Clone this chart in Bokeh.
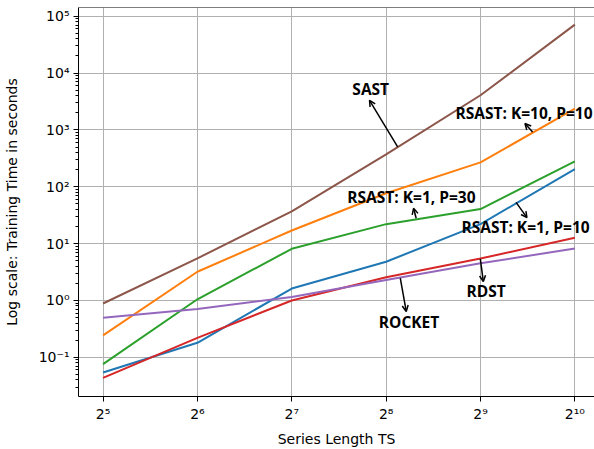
import numpy as np
from bokeh.plotting import figure
from bokeh.models import (FixedTicker, Arrow, OpenHead, Label, Span, Range1d,
                          CustomJSTickFormatter)
from bokeh.embed import file_html
from bokeh.resources import INLINE

# ---- data ----
series_length = [32, 64, 128, 256, 512, 1024]
rsast_k1_p10 = [0.054, 0.18, 1.62, 4.8, 22, 205]
rsast_k10_p10 = [0.243, 3.2, 17, 77, 268, 2370]
rsast_k1_p30 = [0.076, 1.05, 8.1, 22, 40.6, 279]
rocket = [0.0436, 0.22, 1.0, 2.57, 5.46, 12.7]
rdst = [0.497, 0.71, 1.15, 2.3, 4.5, 8.2]
sast = [0.885, 5.5, 37, 370, 4070, 71000]

x_ticks = [32, 64, 128, 256, 512, 1024]
y_ticks = [0.01, 0.1, 1, 10, 100, 1000, 10000, 100000]

series = [
    ("RSAST: K=1, P=10", rsast_k1_p10, "#1f77b4"),
    ("RSAST: K=10, P=10", rsast_k10_p10, "#ff7f0e"),
    ("RSAST: K=1, P=30", rsast_k1_p30, "#2ca02c"),
    ("ROCKET", rocket, "#d62728"),
    ("RDST", rdst, "#9467bd"),
    ("SAST", sast, "#8c564b"),
]

# annotation layout (log2 x, log10 y): text-left, text-mid, arrow tail, arrow head
annotations = [
    ("SAST", (7.642, 3.714), (8.122, 2.702), (7.824, 3.521)),
    ("RSAST: K=10, P=10", (8.735, 3.293), (9.552, 2.965), (9.471, 3.112)),
    ("RSAST: K=1, P=30", (7.589, 1.825), (8.318, 1.446), (8.291, 1.621)),
    ("RSAST: K=1, P=10", (8.798, 1.284), (9.377, 1.726), (9.492, 1.456)),
    ("RDST", (8.851, 0.161), (8.998, 0.732), (9.030, 0.333)),
    ("ROCKET", (7.923, -0.382), (8.150, 0.393), (8.213, -0.193)),
]

p = figure(width=594, height=449, x_axis_type="log", y_axis_type="log",
           x_range=Range1d(2 ** 4.740, 2 ** 10.208),
           y_range=Range1d(10 ** -1.689, 10 ** 5.153),
           output_backend="svg", toolbar_location=None,
           min_border_left=74, min_border_right=0, min_border_top=7,
           min_border_bottom=52)
p.outline_line_color = None
p.background_fill_color = "white"
p.border_fill_color = "white"

for name, vals, col in series:
    p.line(series_length, vals, line_color=col, line_width=2)

# top spine
p.add_layout(Span(location=10 ** 5.153, dimension="width", line_color="black",
                  line_width=1))

minor_y = []
for e in range(-2, 6):
    for m in range(2, 10):
        minor_y.append(m * 10 ** e)

p.xaxis.ticker = FixedTicker(ticks=x_ticks, minor_ticks=[])
p.yaxis.ticker = FixedTicker(ticks=y_ticks, minor_ticks=minor_y)

sup_js = """
const s = {'0':'\u2070','1':'\u00b9','2':'\u00b2','3':'\u00b3','4':'\u2074','5':'\u2075',
           '6':'\u2076','7':'\u2077','8':'\u2078','9':'\u2079','-':'\u207b'};
"""
p.xaxis.formatter = CustomJSTickFormatter(code=sup_js + """
const k = Math.round(Math.log2(tick));
return '2' + String(k).split('').map(c => s[c]).join('');
""")
p.yaxis.formatter = CustomJSTickFormatter(code=sup_js + """
const k = Math.round(Math.log10(tick));
return '10' + String(k).split('').map(c => s[c]).join('');
""")

for ax in (p.xaxis, p.yaxis):
    ax.axis_line_color = "black"
    ax.axis_line_width = 1
    ax.major_tick_line_color = "black"
    ax.minor_tick_line_color = "black"
    ax.major_tick_out = 5
    ax.major_tick_in = 0
    ax.minor_tick_out = 3
    ax.minor_tick_in = 0
    ax.major_label_text_font = "DejaVu Sans"
    ax.major_label_text_font_size = "14px"
    ax.major_label_text_color = "black"
    ax.axis_label_text_font = "DejaVu Sans"
    ax.axis_label_text_font_size = "14px"
    ax.axis_label_text_font_style = "normal"
    ax.axis_label_text_color = "black"
    ax.major_label_standoff = 4

p.xaxis.axis_label = "Series Length TS"
p.yaxis.axis_label = "Log scale: Training Time in seconds"
p.xaxis.axis_label_standoff = 6
p.yaxis.axis_label_standoff = 16

p.xgrid.grid_line_color = "#b0b0b0"
p.ygrid.grid_line_color = "#b0b0b0"
p.xgrid.grid_line_width = 1
p.ygrid.grid_line_width = 1

for text, (tx, ty), (ax_, ay_), (hx, hy) in annotations:
    p.add_layout(Label(x=2 ** tx, y=10 ** ty, text=text, text_font="Open Sans",
                       text_font_style="bold", text_font_size="15.5px",
                       text_align="left", text_baseline="middle",
                       text_color="black"))
    p.add_layout(Arrow(x_start=2 ** ax_, y_start=10 ** ay_, x_end=2 ** hx,
                       y_end=10 ** hy, line_color="black", line_width=1.5,
                       end=OpenHead(size=6, line_width=1.5, line_color="black")))

open("out.html", "w").write(file_html(p, INLINE))
